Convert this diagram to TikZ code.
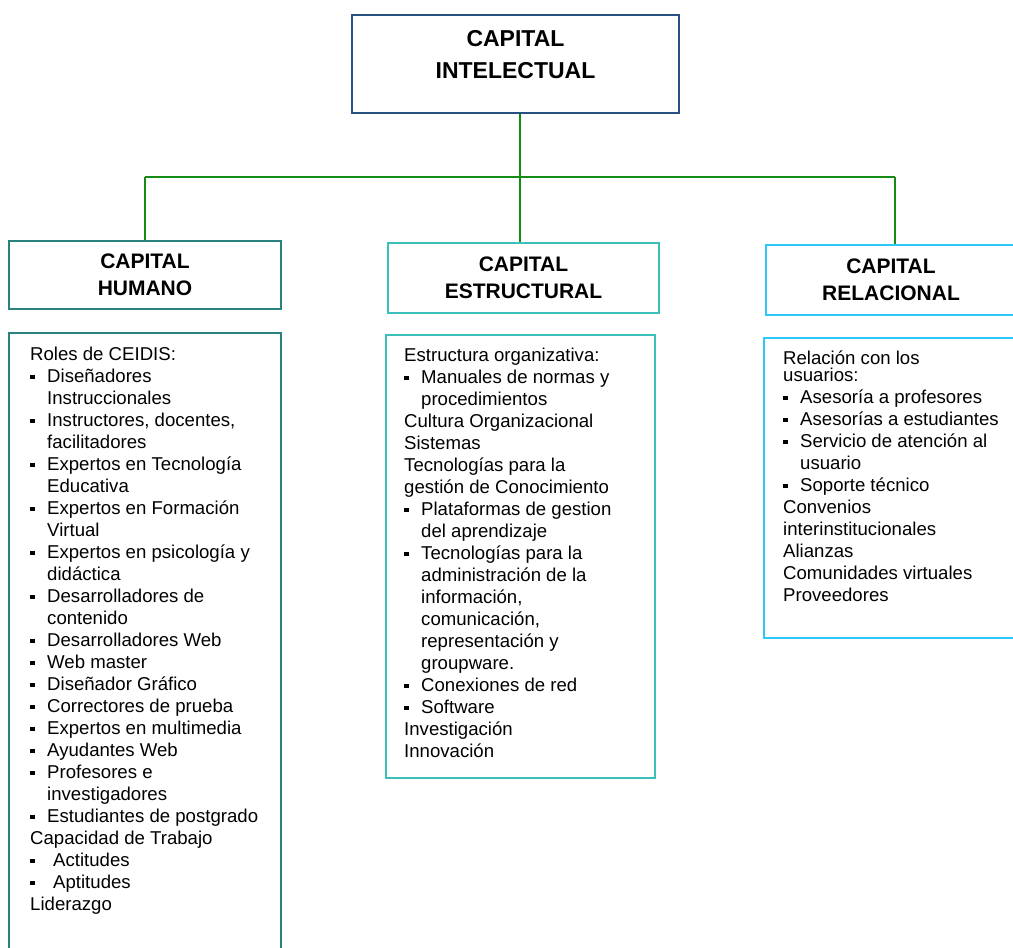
\documentclass[tikz,border=0pt]{standalone}
\usepackage{fontspec}
\setmainfont{Liberation Sans}
\definecolor{intelblue}{RGB}{40,80,130}
\definecolor{humteal}{RGB}{40,130,125}
\definecolor{estteal}{RGB}{60,190,185}
\definecolor{relcyan}{RGB}{45,200,245}
\definecolor{linkgreen}{RGB}{20,140,20}
\newcommand{\itm}{\makebox[17pt][l]{\raisebox{3.5pt}{\rule{4.5pt}{4.5pt}}}}
\newcommand{\cnt}{\hspace*{17pt}}

\begin{document}
\begin{tikzpicture}[x=1pt,y=-1pt,
		box/.style={draw=#1,line width=2pt,inner sep=0pt},
		head/.style={font=\bfseries\fontsize{21}{27}\selectfont,align=center},
		list/.style={font=\fontsize{18.6}{22}\selectfont,align=left,anchor=north west,inner sep=0pt},
		link/.style={draw=linkgreen,line width=2pt}]
	\useasboundingbox (0,0) rectangle (1013,948);
	% top box
	\node (intel) [box=intelblue,minimum width=327pt,minimum height=98pt] at (515.5,64) {};
	\node (intelText) [head,font=\bfseries\fontsize{23}{32}\selectfont] at (515.5,55) {CAPITAL\\INTELECTUAL};
	% headings
	\node (humano) [box=humteal,head,minimum width=272pt,minimum height=68pt] at (145,275) {CAPITAL\\HUMANO};
	\node (estruct) [box=estteal,head,minimum width=271pt,minimum height=70pt] at (523.5,278) {CAPITAL\\ESTRUCTURAL};
	\node (relac) [box=relcyan,head,minimum width=250pt,minimum height=70pt] at (891,280) {CAPITAL\\RELACIONAL};
	% connectors
	\coordinate (bus) at (520,177);
	\coordinate (busR) at (895,177);
	\draw[link] (intel.south -| bus) -- (bus);
	\draw[link] (humano.north |- bus) -- (busR);
	\draw[link] (humano.north |- bus) -- (humano.north);
	\draw[link] (bus) -- (bus |- estruct.north);
	\draw[link] (busR) -- (busR |- relac.north);
	% lists
	\node (humList) [box=humteal,minimum width=272pt,minimum height=630pt] at (145,648) {};
	\node (estList) [box=estteal,minimum width=269pt,minimum height=443pt] at (520.5,556.5) {};
	\node (relList) [box=relcyan,minimum width=252pt,minimum height=300pt] at (890,488) {};
	\node (humText) [list] at (30,347) {Roles de CEIDIS:\\
		\itm Diseñadores\\ \cnt Instruccionales\\
		\itm Instructores, docentes,\\ \cnt facilitadores\\
		\itm Expertos en Tecnología\\ \cnt Educativa\\
		\itm Expertos en Formación\\ \cnt Virtual\\
		\itm Expertos en psicología y\\ \cnt didáctica\\
		\itm Desarrolladores de\\ \cnt contenido\\
		\itm Desarrolladores Web\\
		\itm Web master\\
		\itm Diseñador Gráfico\\
		\itm Correctores de prueba\\
		\itm Expertos en multimedia\\
		\itm Ayudantes Web\\
		\itm Profesores e\\ \cnt investigadores\\
		\itm Estudiantes de postgrado\\
		Capacidad de Trabajo\\
		\itm\hspace{6pt}Actitudes\\
		\itm\hspace{6pt}Aptitudes\\
		Liderazgo};
	\node (estText) [list] at (404,348) {Estructura organizativa:\\
		\itm Manuales de normas y\\ \cnt procedimientos\\
		Cultura Organizacional\\
		Sistemas\\
		Tecnologías para la\\
		gestión de Conocimiento\\
		\itm Plataformas de gestion\\ \cnt del aprendizaje\\
		\itm Tecnologías para la\\ \cnt administración de la\\
		\cnt información,\\ \cnt comunicación,\\
		\cnt representación y\\ \cnt groupware.\\
		\itm Conexiones de red\\
		\itm Software\\
		Investigación\\
		Innovación};
	\node (relText) [list] at (783,351) {Relación con los\\[-5pt]
		usuarios:\\
		\itm Asesoría a profesores\\
		\itm Asesorías a estudiantes\\
		\itm Servicio de atención al\\ \cnt usuario\\
		\itm Soporte técnico\\
		Convenios\\
		interinstitucionales\\
		Alianzas\\
		Comunidades virtuales\\
		Proveedores};
\end{tikzpicture}
\end{document}
